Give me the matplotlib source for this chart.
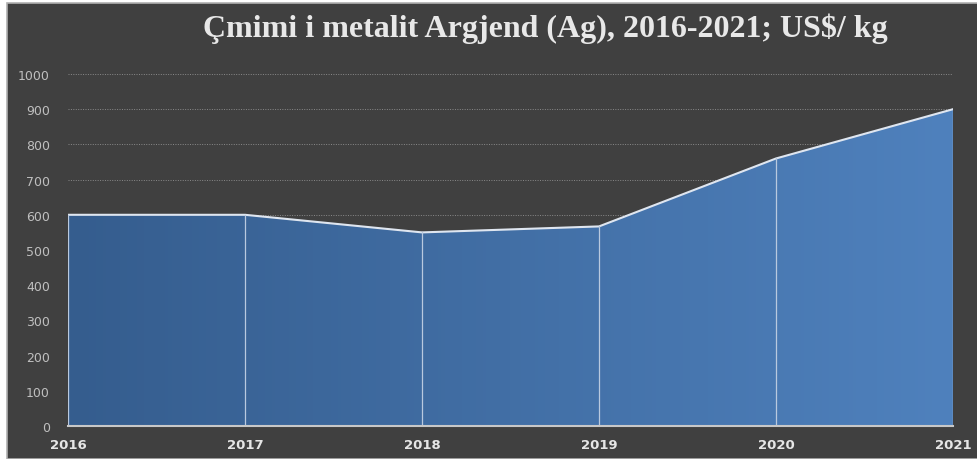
import numpy as np
import matplotlib.pyplot as plt
from matplotlib.patches import Rectangle, Polygon
from matplotlib.colors import LinearSegmentedColormap

years = [2016, 2017, 2018, 2019, 2020, 2021]
price = [600, 600, 550, 567, 760, 900]

bg = "#404040"
fig = plt.figure(figsize=(9.77, 4.60), dpi=100, facecolor="white")
# dark chart area with thin light border (white strip on top and left)
fig.patches.append(Rectangle((7 / 977, 0), 1, (460 - 4) / 460, transform=fig.transFigure,
                             facecolor=bg, edgecolor="#b0b0b0", linewidth=1.2, zorder=-5))

ax = fig.add_axes([68 / 977, (460 - 427) / 460, (953 - 68) / 977, (427 - 75) / 460])
ax.patch.set_alpha(0)

x = np.arange(len(years))
ax.set_xlim(0, len(years) - 1)
ax.set_ylim(0, 1000)

# gradient fill under the line
cmap = LinearSegmentedColormap.from_list("g", ["#355d8e", "#4f81bd"])
grad = np.linspace(0, 1, 256).reshape(1, -1)
im = ax.imshow(grad, cmap=cmap, aspect="auto", extent=[0, len(years) - 1, 0, 1000],
               zorder=2)
poly = Polygon(list(zip(x, price)) + [(x[-1], 0), (x[0], 0)], closed=True,
               facecolor="none", edgecolor="none", transform=ax.transData)
ax.add_patch(poly)
im.set_clip_path(poly)

ax.plot(x, price, color="#dfe6f0", linewidth=1.5, zorder=3)
for xi, yi in zip(x, price):
    ax.plot([xi, xi], [0, yi], color="#b9c9df", linewidth=0.9, zorder=3)
ax.plot([x[0], x[-1]], [0, 0], color="#c8c8c8", linewidth=1.5, zorder=4, clip_on=False)

ax.set_yticks(range(0, 1001, 100))
ax.yaxis.grid(True, color="#8a8a8a", linestyle=(0, (1, 1.5)), linewidth=0.7)
ax.set_axisbelow(True)
ax.set_xticks(x)
ax.set_xticklabels([str(y) for y in years], fontweight="bold", color="#e6e6e6", fontsize=9.5)
ax.tick_params(axis="y", colors="#bfbfbf", labelsize=9, length=0, pad=13)
ax.tick_params(axis="x", length=0, pad=9)
for s in ax.spines.values():
    s.set_visible(False)

fig.text(0.558, 0.937, "Çmimi i metalit Argjend (Ag), 2016-2021; US$/ kg",
         ha="center", va="center", fontsize=23, fontweight="bold",
         color="#e8e8e8", family="Liberation Serif")

fig.savefig("out.png", dpi=100, facecolor=fig.get_facecolor())
